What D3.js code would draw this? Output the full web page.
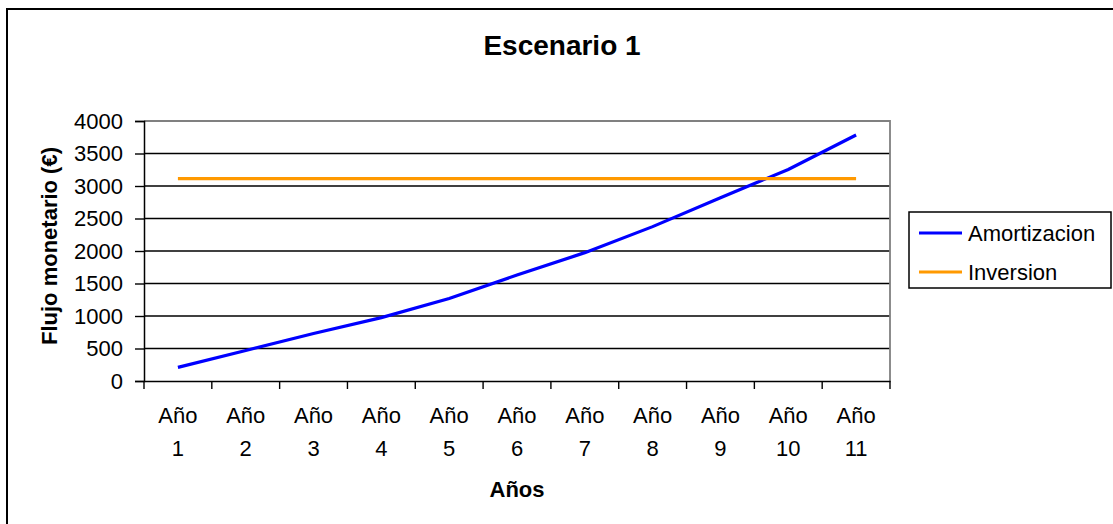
<!DOCTYPE html>
<html><head><meta charset="utf-8">
<script src="https://cdn.jsdelivr.net/npm/d3@7"></script>
<style>body{margin:0;background:#fff}svg{display:block}text{font-family:"Liberation Sans",Arial,sans-serif}</style>
</head><body><svg id="c" width="1113" height="524"></svg>
<script>
const categories = ["Año 1","Año 2","Año 3","Año 4","Año 5","Año 6","Año 7","Año 8","Año 9","Año 10","Año 11"];
const amortizacion = [210, 470, 730, 975, 1270, 1630, 1975, 2375, 2820, 3255, 3785];
const inversion = [3115, 3115, 3115, 3115, 3115, 3115, 3115, 3115, 3115, 3115, 3115];
const yTicks = [0, 500, 1000, 1500, 2000, 2500, 3000, 3500, 4000];
const seriesNames = ["Amortizacion", "Inversion"];
const seriesColors = ["#0000FF", "#FF9900"];

const svg = d3.select("#c");
const L = 144, R = 890, T = 121, B = 381;

// outer chart border (right/bottom edges beyond picture)
svg.append("rect").attr("x", 7).attr("y", 9).attr("width", 1130).attr("height", 540)
  .attr("fill", "none").attr("stroke", "#000").attr("stroke-width", 2);

const x = d3.scaleBand().domain(categories).range([L, R]).padding(0);
const y = d3.scaleLinear().domain([0, 4000]).range([B, T]);

// gridlines
svg.append("g").selectAll("line").data(yTicks.filter(d => d > 0 && d < 4000)).join("line")
  .attr("x1", L).attr("x2", R).attr("y1", d => y(d)).attr("y2", d => y(d))
  .attr("stroke", "#000").attr("stroke-width", 1.5);
// plot area border top/right (grey)
svg.append("path").attr("d", `M${L},${y(4000)}H${R}V${B}`).attr("fill", "none")
  .attr("stroke", "#808080").attr("stroke-width", 1.8);

// y axis
const ya = svg.append("g").attr("transform", `translate(${L},0)`)
  .call(d3.axisLeft(y).tickValues(yTicks).tickSize(9).tickPadding(12).tickFormat(d3.format("d")));
ya.select(".domain").attr("stroke", "#000").attr("stroke-width", 1.5);
ya.selectAll(".tick line").attr("stroke", "#000").attr("stroke-width", 1.4);
ya.selectAll("text").attr("font-size", 22).attr("fill", "#000").attr("font-family", '"Liberation Sans",Arial,sans-serif');

// x axis
const xa = svg.append("g").attr("transform", `translate(0,${B})`)
  .call(d3.axisBottom(x).tickSize(0).tickFormat(""));
xa.select(".domain").attr("stroke", "#000").attr("stroke-width", 1.5);
const tickPos = categories.map(c => x(c)).concat([R]);
svg.append("g").selectAll("line").data(tickPos).join("line")
  .attr("x1", d => d).attr("x2", d => d).attr("y1", B).attr("y2", B + 8)
  .attr("stroke", "#000").attr("stroke-width", 1.4);
const xl = svg.append("g").selectAll("text").data(categories).join("text")
  .attr("x", d => x(d) + x.bandwidth() / 2).attr("text-anchor", "middle")
  .attr("font-size", 22).attr("fill", "#000");
xl.append("tspan").attr("x", d => x(d) + x.bandwidth() / 2).attr("y", 423).text(d => d.split(" ")[0]);
xl.append("tspan").attr("x", d => x(d) + x.bandwidth() / 2).attr("y", 456).text(d => d.split(" ")[1]);

// lines
const line = d3.line().x((d, i) => x(categories[i]) + x.bandwidth() / 2).y(d => y(d));
[amortizacion, inversion].forEach((s, k) => {
  svg.append("path").datum(s).attr("d", line).attr("fill", "none")
    .attr("stroke", seriesColors[k]).attr("stroke-width", 3.2);
});

// titles
svg.append("text").attr("x", 562).attr("y", 55).attr("text-anchor", "middle")
  .attr("font-size", 28).attr("font-weight", "bold").text("Escenario 1");
svg.append("text").attr("x", (L + R) / 2).attr("y", 497).attr("text-anchor", "middle")
  .attr("font-size", 22).attr("font-weight", "bold").text("Años");
svg.append("text").attr("transform", `translate(57,${(T + B) / 2 - 5}) rotate(-90)`)
  .attr("text-anchor", "middle").attr("font-size", 22).attr("font-weight", "bold")
  .text("Flujo monetario (€)");

// legend
svg.append("rect").attr("x", 909).attr("y", 212).attr("width", 202).attr("height", 76)
  .attr("fill", "#fff").attr("stroke", "#000").attr("stroke-width", 1.5);
seriesNames.forEach((n, i) => {
  const yy = 233 + i * 39;
  svg.append("line").attr("x1", 919).attr("x2", 962).attr("y1", yy).attr("y2", yy)
    .attr("stroke", seriesColors[i]).attr("stroke-width", 3.2);
  svg.append("text").attr("x", 968).attr("y", yy + 8).attr("font-size", 22).text(n);
});
</script></body></html>
